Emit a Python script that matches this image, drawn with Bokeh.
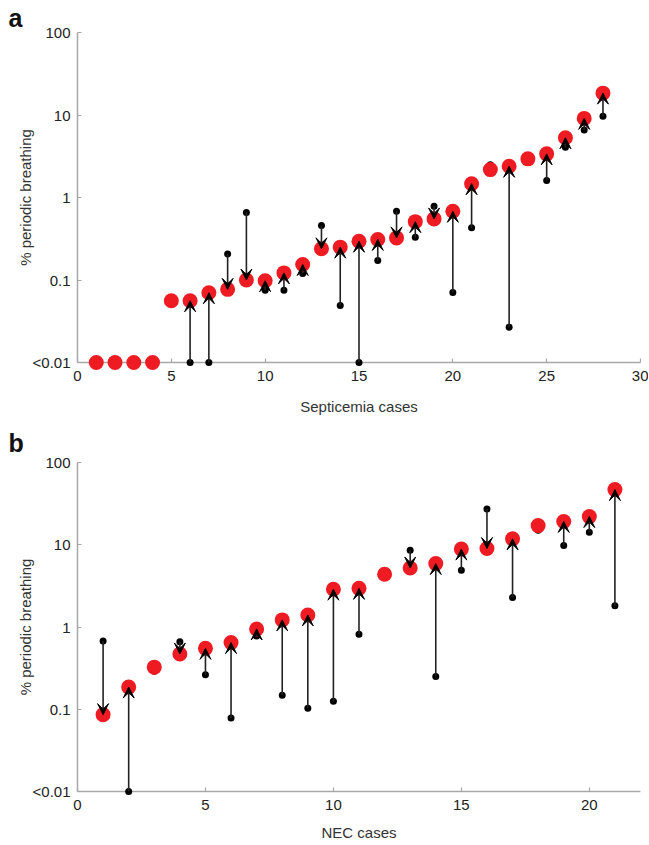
import math
from bokeh.plotting import figure
from bokeh.models import (ColumnDataSource, Arrow, VeeHead, FixedTicker,
                          CustomJSTickFormatter, Range1d)
from bokeh.layouts import column
from bokeh.embed import file_html
from bokeh.resources import INLINE

# ---------------- data ----------------
sep_cases = list(range(1, 29))
sep_after = [0.01, 0.01, 0.01, 0.01, 0.056, 0.056, 0.070, 0.077, 0.100, 0.098,
             0.122, 0.154, 0.239, 0.25, 0.295, 0.31, 0.324, 0.51, 0.55, 0.68,
             1.47, 2.18, 2.39, 2.94, 3.38, 5.3, 9.1, 18.4]
sep_before = [0.01, 0.01, 0.01, 0.01, 0.056, 0.01, 0.01, 0.207, 0.66, 0.075,
              0.075, 0.12, 0.458, 0.049, 0.01, 0.172, 0.68, 0.33, 0.785, 0.0705,
              0.43, 2.5, 0.0268, 2.94, 1.61, 4.07, 6.6, 9.65]

nec_cases = list(range(1, 22))
nec_after = [0.086, 0.186, 0.325, 0.47, 0.55, 0.646, 0.946, 1.22, 1.40, 2.88,
             2.95, 4.37, 5.22, 5.9, 8.85, 9.0, 11.8, 17.1, 19.2, 22.0, 46.8]
nec_before = [0.678, 0.01, 0.29, 0.66, 0.262, 0.0785, 0.78, 0.148, 0.103, 0.125,
              0.817, 4.0, 8.55, 0.25, 4.9, 27.3, 2.29, 15.0, 9.8, 14.2, 1.81]

y_ticks = [0.01, 0.1, 1, 10, 100]
sep_x_ticks = [0, 5, 10, 15, 20, 25, 30]
nec_x_ticks = [0, 5, 10, 15, 20]

FONT = "Liberation Sans"
RED = "#ee1c22"
AXIS_GRAY = "#a8a8a8"


def make_panel(cases, before, after, xmax, xticks, height, b_top, b_bottom,
               letter, xlabel, title_standoff, xlabel_standoff):
    W, L, R = 648, 77, 8
    p = figure(width=W, height=height, x_range=Range1d(0, xmax),
               y_range=Range1d(0.01, 100), y_axis_type="log",
               output_backend="svg", toolbar_location=None,
               min_border_left=L, min_border_right=R,
               min_border_top=b_top, min_border_bottom=b_bottom)
    p.outline_line_color = None
    p.xgrid.visible = False
    p.ygrid.visible = False
    p.background_fill_color = "white"
    p.border_fill_color = "white"

    # panel letter as title
    p.title.text = letter
    p.title.text_font = FONT
    p.title.text_font_size = "25px"
    p.title.text_font_style = "bold"
    p.title.text_color = "#111111"
    p.title.align = "left"
    p.title.offset = -69
    p.title.standoff = title_standoff

    for ax in (p.xaxis[0], p.yaxis[0]):
        ax.axis_line_color = AXIS_GRAY
        ax.axis_line_width = 1.5
        ax.major_tick_line_color = AXIS_GRAY
        ax.major_tick_line_width = 1.2
        ax.major_tick_in = 4
        ax.major_tick_out = 0
        ax.minor_tick_line_color = None
        ax.major_label_text_font = FONT
        ax.major_label_text_font_size = "15px"
        ax.major_label_text_color = "#222222"
        ax.axis_label_text_font = FONT
        ax.axis_label_text_font_size = "15px"
        ax.axis_label_text_font_style = "normal"
        ax.axis_label_text_color = "#333333"

    p.xaxis[0].ticker = FixedTicker(ticks=xticks)
    p.xaxis[0].major_label_standoff = 8
    p.xaxis[0].axis_label = xlabel
    p.xaxis[0].axis_label_standoff = xlabel_standoff
    p.yaxis[0].ticker = FixedTicker(ticks=y_ticks)
    p.yaxis[0].major_label_standoff = 7
    p.yaxis[0].axis_label = "% periodic breathing"
    p.yaxis[0].axis_label_standoff = -4
    p.yaxis[0].formatter = CustomJSTickFormatter(
        code="return tick < 0.05 ? '<0.01' : (tick >= 1 ? tick.toFixed(0) : tick.toString());")

    # black (before) dots under red (after) dots
    src_b = ColumnDataSource(dict(x=cases, y=before))
    src_r = ColumnDataSource(dict(x=cases, y=after))
    p.scatter("x", "y", source=src_b, size=7, fill_color="black",
              line_color=None, level="annotation")
    p.scatter("x", "y", source=src_r, size=15, fill_color=RED,
              line_color=None, level="annotation")

    xs, ys, xe, ye = [], [], [], []
    for c, b, a in zip(cases, before, after):
        if abs(math.log10(a) - math.log10(b)) > 0.07:
            xs.append(c); ys.append(b); xe.append(c); ye.append(a)
    asrc = ColumnDataSource(dict(xs=xs, ys=ys, xe=xe, ye=ye))
    p.add_layout(Arrow(end=VeeHead(size=11, fill_color="black",
                                   line_color="black", line_width=1),
                       x_start="xs", y_start="ys", x_end="xe", y_end="ye",
                       source=asrc, line_color="#222222", line_width=1.6))
    return p


pa = make_panel(sep_cases, sep_before, sep_after, 30, sep_x_ticks,
                height=420, b_top=32, b_bottom=58, letter="a",
                xlabel="Septicemia cases", title_standoff=2,
                xlabel_standoff=14)
pb = make_panel(nec_cases, nec_before, nec_after, 22, nec_x_ticks,
                height=423, b_top=42, b_bottom=50, letter="b",
                xlabel="NEC cases", title_standoff=11, xlabel_standoff=11)

layout = column(pa, pb, spacing=0)
open("out.html", "w").write(file_html(layout, INLINE))
